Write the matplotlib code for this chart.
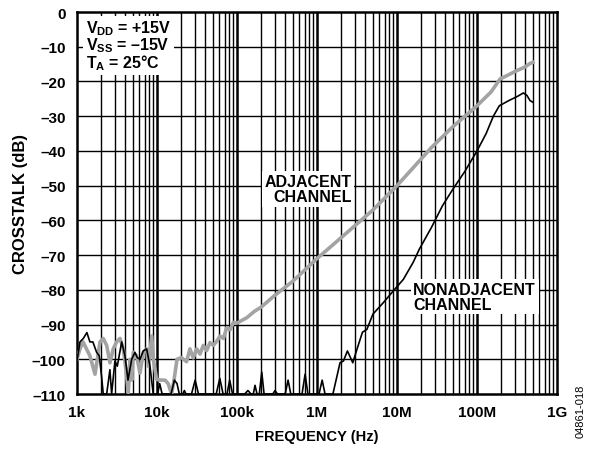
import matplotlib
matplotlib.use('Agg')
import matplotlib.pyplot as plt
from matplotlib.ticker import FixedLocator, NullFormatter

plt.rcParams['font.family'] = ['Liberation Sans', 'DejaVu Sans']
plt.rcParams['font.weight'] = 'bold'
plt.rcParams['mathtext.fontset'] = 'custom'
plt.rcParams['mathtext.rm'] = 'Liberation Sans:bold'
plt.rcParams['mathtext.it'] = 'Liberation Sans:bold'
plt.rcParams['mathtext.bf'] = 'Liberation Sans:bold'

# 隣接チャネル (グレー)
adj_freq = [1.0e3, 1.09e3, 1.19e3, 1.45e3, 1.68e3, 1.94e3, 2.13e3, 2.35e3, 2.58e3,
            2.84e3, 3.13e3, 3.45e3, 3.79e3, 4.1e3, 4.38e3, 4.6e3, 4.83e3, 5.05e3,
            5.57e3, 6.13e3, 6.74e3, 7.42e3, 7.8e3, 8.6e3, 9.0e3, 9.9e3, 10.9e3,
            12.6e3, 13.8e3, 15.2e3, 16.2e3, 17.8e3, 20.2e3, 23.4e3, 25.8e3, 28.4e3,
            31.3e3, 34.5e3, 37.9e3, 41.8e3, 46e3, 50.6e3, 55.8e3, 61.4e3, 67.6e3,
            74.5e3, 82e3, 90e3, 99.5e3, 133e3, 165e3, 200e3, 300e3, 500e3, 1e6,
            2e6, 5e6, 1e7, 2.7e7, 5e7, 1e8, 1.5e8, 1.94e8, 3.13e8, 4.0e8, 4.6e8, 5.0e8]
adj_db = [-100, -97, -95, -99, -104.3, -95, -94, -96, -101, -97, -95, -94, -97,
          -103, -109.6, -100, -106, -98, -99, -104, -98, -97, -102, -93.3, -100,
          -105.8, -106, -106, -107, -110, -106.5, -100, -99.5, -100.7, -97, -99.6,
          -97, -98.5, -96, -97.5, -95.2, -96, -94.8, -93.3, -94, -90.9, -91.5,
          -89.4, -89.6, -88, -86.2, -85, -81.5, -77.5, -71, -65, -57, -50, -39,
          -33, -27, -23, -19.3, -16.9, -15.8, -14.8, -14.5]

# 非隣接チャネル (黒)
non_freq = [1.0e3, 1.09e3, 1.2e3, 1.33e3, 1.45e3, 1.58e3, 1.76e3, 1.9e3, 2.03e3,
            2.13e3, 2.35e3, 2.58e3, 2.71e3, 2.98e3, 3.19e3, 3.62e3, 3.98e3, 4.34e3,
            4.83e3, 5.3e3, 5.66e3, 6.13e3, 6.74e3, 7.42e3, 8.17e3, 8.98e3, 9.5e3,
            10.2e3, 10.8e3, 11.6e3, 12.5e3, 15e3, 16.5e3, 17.8e3, 19e3, 21e3,
            22e3, 23e3, 27e3, 30e3, 33e3, 55e3, 61e3, 67e3, 75e3, 81e3, 88e3,
            125e3, 137e3, 150e3, 160e3, 168e3, 178e3, 190e3, 204e3, 218e3, 230e3,
            280e3, 299e3, 320e3, 400e3, 435e3, 470e3, 650e3, 710e3, 770e3, 1.06e6,
            1.16e6, 1.26e6, 1.58e6, 1.94e6, 2.14e6, 2.4e6, 2.8e6, 3.2e6, 3.7e6,
            4.2e6, 5.0e6, 6.8e6, 9.0e6, 12e6, 16e6, 19e6, 27e6, 37e6, 50e6, 70e6,
            100e6, 130e6, 160e6, 190e6, 250e6, 320e6, 380e6, 420e6, 460e6, 500e6]
non_db = [-100.5, -95, -94, -92.3, -95, -95, -98, -99, -105, -110, -110, -103,
          -110, -100.5, -102, -95, -99, -106, -100, -98, -99.5, -100, -97.6, -97,
          -102, -110, -110, -110, -107, -110, -110, -110, -106, -107, -110, -110,
          -109, -110, -110, -106, -110, -110, -105.5, -110, -110, -106, -110,
          -110, -109, -110, -110, -107.5, -110, -110, -103.7, -110, -110, -110,
          -109, -110, -110, -106, -110, -110, -104.3, -110, -110, -106, -110,
          -110, -101, -100.5, -97.6, -101, -96.7, -92.2, -91.4, -87, -83.6,
          -80.3, -77, -72, -68.3, -62, -55.8, -51, -46, -40, -35, -30, -27,
          -25.5, -24.3, -23.3, -24, -25.5, -26]

y_ticks = [0, -10, -20, -30, -40, -50, -60, -70, -80, -90, -100, -110]
y_labels = ['0', '–10', '–20', '–30', '–40', '–50', '–60', '–70', '–80', '–90',
            '–100', '–110']
x_ticks = [1e3, 1e4, 1e5, 1e6, 1e7, 1e8, 1e9]
x_labels = ['1k', '10k', '100k', '1M', '10M', '100M', '1G']

fig = plt.figure(figsize=(5.89, 4.52), dpi=100)
ax = fig.add_axes([0.1307, 0.1261, 0.815, 0.8451])
ax.set_xscale('log')
ax.set_xlim(1e3, 1e9)
ax.set_ylim(-110, 0)

# グリッド
for d in range(3, 9):
    for m in range(2, 10):
        ax.axvline(m * 10 ** d, color='black', lw=1.0, zorder=1)
for t in x_ticks[1:-1]:
    ax.axvline(t, color='black', lw=1.8, zorder=1)
for t in y_ticks[1:-1]:
    ax.axhline(t, color='black', lw=1.0, zorder=1)

ax.plot(adj_freq, adj_db, color='#a3a3a3', lw=2.6, zorder=3, solid_joinstyle='round')
ax.plot(non_freq, non_db, color='black', lw=1.2, zorder=4)

ax.xaxis.set_major_locator(FixedLocator(x_ticks))
ax.xaxis.set_minor_locator(FixedLocator([]))
ax.xaxis.set_minor_formatter(NullFormatter())
ax.set_xticks(x_ticks)
ax.set_xticklabels(x_labels)
ax.set_yticks(y_ticks)
ax.set_yticklabels(y_labels)
ax.tick_params(axis='x', length=0, labelsize=11, pad=8)
ax.tick_params(axis='y', length=0, labelsize=11, pad=8)
for s in ax.spines.values():
    s.set_linewidth(1.8)

ax.set_xlabel('FREQUENCY (Hz)', fontsize=10.5, fontweight='bold', labelpad=7)
ax.set_ylabel('CROSSTALK (dB)', fontsize=12, fontweight='bold', labelpad=3)

box = dict(facecolor='white', edgecolor='none', pad=2)
ax.text(1.3e3, -1.8, '$V_{DD}$ = +15V\n$V_{SS}$ = –15V\n$T_A$ = 25°C',
        fontsize=11.5, fontweight='bold', va='top', ha='left', linespacing=0.9,
        bbox=box, zorder=5)
ax.text(2.7e6, -51, 'ADJACENT\nCHANNEL', fontsize=11.5, fontweight='bold',
        ha='right', va='center', multialignment='right', linespacing=1.0,
        bbox=box, zorder=5)
ax.text(1.6e7, -82, 'NONADJACENT\nCHANNEL', fontsize=11.5, fontweight='bold',
        ha='left', va='center', multialignment='left', linespacing=1.0,
        bbox=box, zorder=5)

fig.text(0.985, 0.09, '04861-018', rotation=90, fontsize=8, fontweight='normal',
         ha='center', va='center')

fig.savefig('out.png', dpi=100)
